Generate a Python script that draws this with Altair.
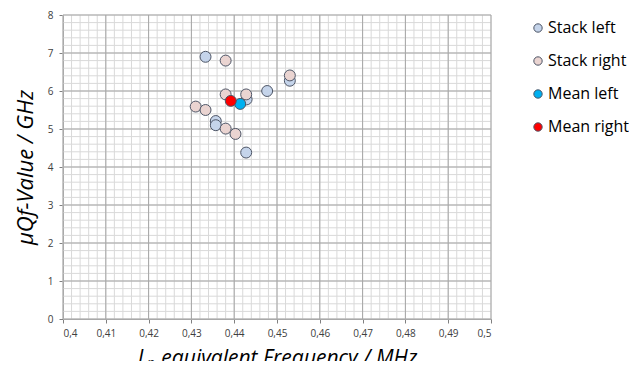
import altair as alt
import pandas as pd
import numpy as np

series_names = ["Stack left", "Stack right", "Mean left", "Mean right"]
fills = ["#c5d4ea", "#ead4d1", "#00b0f0", "#ff0000"]

left_x = [0.4333, 0.4530, 0.4477, 0.4429, 0.4357, 0.4357, 0.4428]
left_y = [6.90, 6.27, 6.00, 5.78, 5.21, 5.10, 4.38]
right_x = [0.4380, 0.4530, 0.4380, 0.4428, 0.4310, 0.4333, 0.4380, 0.4403]
right_y = [6.80, 6.41, 5.91, 5.91, 5.59, 5.50, 5.01, 4.87]
mean_left = [0.4414, 5.66]
mean_right = [0.4392, 5.74]

x_major = [0.40, 0.41, 0.42, 0.43, 0.44, 0.45, 0.46, 0.47, 0.48, 0.49, 0.50]
y_major = [0, 1, 2, 3, 4, 5, 6, 7, 8]

rows = []
for x, y in zip(left_x, left_y):
    rows.append({"x": x, "y": y, "s": "Stack left"})
for x, y in zip(right_x, right_y):
    rows.append({"x": x, "y": y, "s": "Stack right"})
rows.append({"x": mean_left[0], "y": mean_left[1], "s": "Mean left"})
rows.append({"x": mean_right[0], "y": mean_right[1], "s": "Mean right"})
df = pd.DataFrame(rows)
df["o"] = range(len(df))

x_minor = [round(v, 3) for v in np.arange(0.4, 0.5001, 0.002)]
y_minor = [round(v, 2) for v in np.arange(0, 8.001, 0.2)]

xs = alt.Scale(domain=[0.4, 0.5], nice=False, zero=False)
ys = alt.Scale(domain=[0, 8], nice=False)

x_axis = alt.Axis(values=x_major, grid=False,
                  labelExpr="replace(format(datum.value, '.2~f'), '.', ',')",
                  title="Lₚ equivalent Frequency / MHz", titleFontSize=21,
                  titleFontStyle="italic", titleFontWeight="normal",
                  titlePadding=9, labelPadding=5)
y_axis = alt.Axis(values=y_major, grid=False, format="d",
                  title="μQf-Value / GHz", titleFontSize=22,
                  titleFontStyle="italic", titleFontWeight="normal",
                  titlePadding=10, labelPadding=6)

minor_v = alt.Chart(pd.DataFrame({"x": x_minor})).mark_rule(color="#d9d9d9", strokeWidth=1).encode(
    x=alt.X("x:Q", scale=xs, axis=x_axis))
minor_h = alt.Chart(pd.DataFrame({"y": y_minor})).mark_rule(color="#d9d9d9", strokeWidth=1).encode(
    y=alt.Y("y:Q", scale=ys, axis=y_axis))
major_v = alt.Chart(pd.DataFrame({"x": x_major})).mark_rule(color="#a6a6a6", strokeWidth=1).encode(
    x=alt.X("x:Q", scale=xs, axis=x_axis))
major_h = alt.Chart(pd.DataFrame({"y": y_major})).mark_rule(color="#a6a6a6", strokeWidth=1).encode(
    y=alt.Y("y:Q", scale=ys, axis=y_axis))

points = alt.Chart(df).mark_point(filled=True, size=120, stroke="#4d5566", strokeWidth=1, opacity=1).encode(
    x=alt.X("x:Q", scale=xs, axis=x_axis),
    y=alt.Y("y:Q", scale=ys, axis=y_axis),
    fill=alt.Fill("s:N", scale=alt.Scale(domain=series_names, range=fills),
                  legend=alt.Legend(title=None, orient="none", legendX=467, legendY=5,
                                    symbolType="circle", symbolSize=70,
                                    symbolStrokeColor="#4d5566", symbolStrokeWidth=1,
                                    labelFontSize=16, labelColor="#000000",
                                    rowPadding=17, labelOffset=2)),
    order=alt.Order("o:Q"),
)

chart = alt.layer(minor_v, minor_h, major_v, major_h, points).properties(
    width=428, height=304,
    autosize=alt.AutoSizeParams(type="none"),
    padding={"left": 55, "top": 7, "right": 138, "bottom": 42},
).configure_view(stroke=None).configure_axis(
    labelFont="Open Sans", titleFont="Open Sans", labelFontSize=10, labelColor="#404040",
    titleColor="#000000", domainColor="#808080", tickColor="#808080", tickSize=4,
).configure_legend(labelFont="Open Sans").properties(background="white")

chart.save("out.html", embed_options={"renderer": "svg", "actions": False})
